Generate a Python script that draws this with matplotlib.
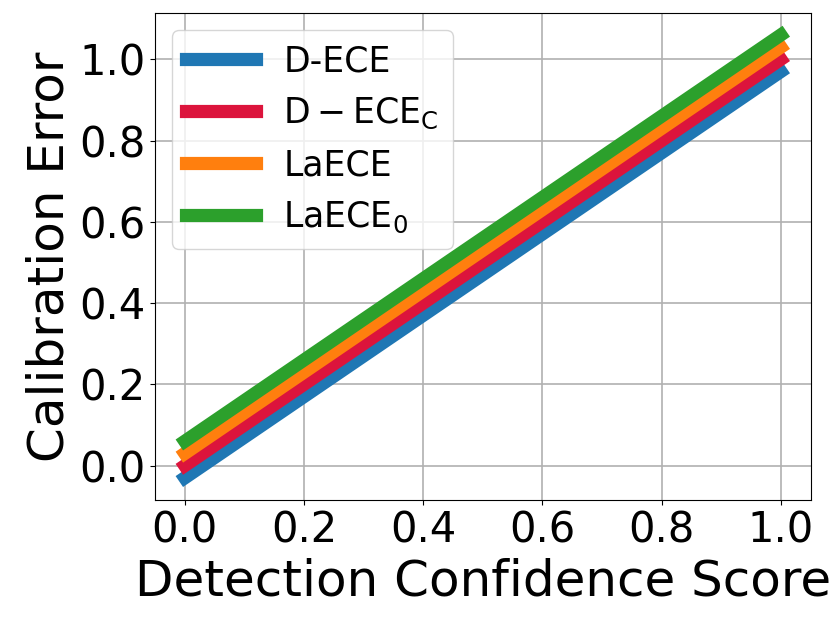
import numpy as np
import matplotlib.pyplot as plt

score = [0.0, 1.0]
d_ece = [-0.03, 0.97]
d_ece_c = [0.0, 1.0]
laece = [0.03, 1.03]
laece_0 = [0.06, 1.06]

labels = ['D-ECE', r'$\mathregular{D-ECE_C}$', 'LaECE', r'$\mathregular{LaECE_0}$']
colors = ['#1f77b4', 'crimson', '#ff7f0e', '#2ca02c']

fig = plt.figure(figsize=(8.31, 6.27), dpi=100)
ax = fig.add_axes([0.1865, 0.2026, 0.789, 0.777])

for y, lab, c in zip([d_ece, d_ece_c, laece, laece_0], labels, colors):
    ax.plot(score, y, color=c, linewidth=9.5, label=lab)

ax.set_xticks([0.0, 0.2, 0.4, 0.6, 0.8, 1.0])
ax.set_yticks([0.0, 0.2, 0.4, 0.6, 0.8, 1.0])
ax.tick_params(labelsize=30)
ax.set_xlabel('Detection Confidence Score', fontsize=36)
ax.set_ylabel('Calibration Error', fontsize=36)
ax.grid(True, linewidth=1.2)
ax.legend(fontsize=25, loc='upper left')

fig.savefig('out.png', dpi=100)
